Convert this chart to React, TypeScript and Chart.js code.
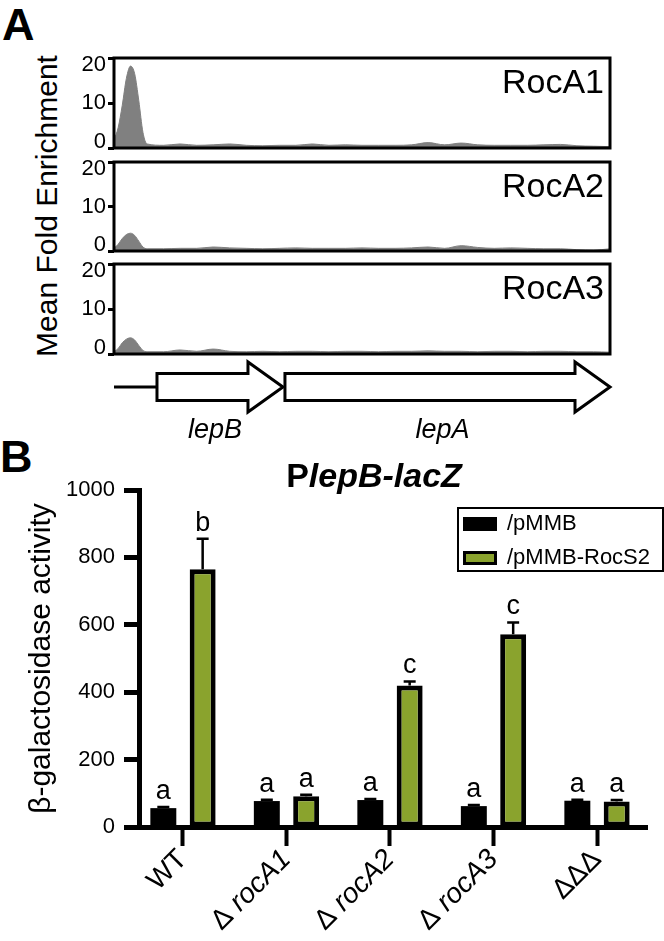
import React, { useEffect, useRef } from 'react';
import { Chart, registerables } from 'chart.js';

Chart.register(...registerables);

const FONT = 'Arial, "Liberation Sans", Helvetica, sans-serif';
Chart.defaults.font.family = FONT;
Chart.defaults.color = '#000';

// ---------- Panel A data (genomic position in bp, mean fold enrichment) ----------
const positions = [0, 25, 50, 75, 100, 125, 150, 175, 200, 300, 400, 500, 600, 700, 800, 900, 1000, 1100, 1200, 1300, 1400, 1500, 1600, 1700, 1800, 1900, 2000, 2100, 2200, 2300, 2400, 2500, 2600, 2700, 2800, 2900, 3000];
const rocA1Values = [1.8, 4.5, 9.5, 15.5, 18.2, 16.5, 10.5, 3.5, 0.9, 0.6, 0.9, 0.6, 0.7, 0.9, 0.6, 0.5, 0.6, 0.6, 0.9, 0.6, 0.7, 0.6, 0.6, 0.6, 0.7, 1.2, 0.7, 1.1, 0.7, 0.6, 0.6, 0.6, 0.7, 0.8, 0.5, 0.4, 0.3];
const rocA2Values = [0.6, 1.5, 2.8, 3.7, 4.0, 3.5, 2.2, 0.9, 0.5, 0.5, 0.6, 0.6, 0.9, 0.7, 0.6, 0.5, 0.6, 0.7, 0.6, 0.6, 0.6, 0.7, 0.6, 0.6, 0.7, 0.9, 0.6, 1.2, 0.8, 0.6, 0.7, 0.6, 0.5, 0.5, 0.3, 0.2, 0.5];
const rocA3Values = [0.5, 1.2, 2.5, 3.3, 3.6, 3.1, 1.9, 0.8, 0.5, 0.5, 0.9, 0.6, 1.1, 0.6, 0.5, 0.6, 0.5, 0.6, 0.6, 0.5, 0.6, 0.6, 0.5, 0.6, 0.6, 0.7, 0.6, 0.6, 0.5, 0.6, 0.6, 0.5, 0.6, 0.6, 0.5, 0.5, 0.4];
const trackNames = ['RocA1', 'RocA2', 'RocA3'];
const trackValues = [rocA1Values, rocA2Values, rocA3Values];
const trackTicks = [0, 10, 20];

const geneNames = ['lepB', 'lepA'];
const geneStart = [260, 1034];
const geneEnd = [1022, 3000];

// ---------- Panel B data ----------
const categories = ['WT', 'ΔrocA1', 'ΔrocA2', 'ΔrocA3', 'ΔΔΔ'];
const seriesNames = ['/pMMB', '/pMMB-RocS2'];
const pmmbValues = [56, 77, 80, 62, 78];
const pmmbErrors = [3, 4, 3, 3, 3];
const pmmbLetters = ['a', 'a', 'a', 'a', 'a'];
const rocS2Values = [765, 91, 420, 572, 76];
const rocS2Errors = [90, 5, 12, 35, 4];
const rocS2Letters = ['b', 'a', 'c', 'c', 'a'];
const yTicksB = [0, 200, 400, 600, 800, 1000];

const GREEN = '#8aa32d';
const GRAY = '#808080';

function trackPlugin(k: number) {
  return {
    id: 'track' + k,
    afterDraw(chart: any) {
      const { ctx, chartArea: a } = chart;
      const ys = chart.scales.y;
      const xs = chart.scales.x;
      ctx.save();
      ctx.strokeStyle = '#000';
      ctx.lineWidth = 3;
      ctx.strokeRect(a.left, a.top, a.right - a.left, a.bottom - a.top);
      ctx.fillStyle = '#000';
      ctx.font = `22px ${FONT}`;
      ctx.textAlign = 'right';
      ctx.textBaseline = 'middle';
      trackTicks.forEach((v) => {
        let py = ys.getPixelForValue(v);
        py = Math.min(Math.max(py, a.top + 7), a.bottom - 6.5);
        ctx.fillText(String(v), a.left - 8, py);
      });
      ctx.font = `34px ${FONT}`;
      ctx.textBaseline = 'alphabetic';
      ctx.fillText(trackNames[k], a.right - 6, a.top + 35);
      if (k === trackNames.length - 1) {
        const yc = a.bottom + 33;
        ctx.lineWidth = 3;
        ctx.lineJoin = 'miter';
        ctx.beginPath();
        ctx.moveTo(xs.getPixelForValue(positions[0]), yc);
        ctx.lineTo(xs.getPixelForValue(geneStart[0]), yc);
        ctx.stroke();
        geneNames.forEach((g, i) => {
          const x0 = xs.getPixelForValue(geneStart[i]);
          const x1 = xs.getPixelForValue(geneEnd[i]);
          const hx = x1 - 35;
          ctx.beginPath();
          ctx.moveTo(x0, yc - 13.5);
          ctx.lineTo(hx, yc - 13.5);
          ctx.lineTo(hx, yc - 25);
          ctx.lineTo(x1, yc);
          ctx.lineTo(hx, yc + 25);
          ctx.lineTo(hx, yc + 13.5);
          ctx.lineTo(x0, yc + 13.5);
          ctx.closePath();
          ctx.fillStyle = '#fff';
          ctx.fill();
          ctx.stroke();
          ctx.fillStyle = '#000';
          ctx.font = `italic 27px ${FONT}`;
          ctx.textAlign = 'center';
          ctx.fillText(g, (x0 + x1) / 2 - 5, a.bottom + 84);
        });
      }
      ctx.restore();
    },
  };
}

function trackConfig(k: number): any {
  const vals = trackValues[k];
  return {
    type: 'line',
    data: {
      datasets: [
        {
          label: trackNames[k],
          data: positions.map((x, i) => ({ x, y: vals[i] })),
          fill: 'origin',
          backgroundColor: GRAY,
          borderColor: GRAY,
          borderWidth: 1,
          pointRadius: 0,
          cubicInterpolationMode: 'monotone',
        },
      ],
    },
    options: {
      animation: false,
      responsive: false,
      events: [],
      layout: { padding: { top: 12, bottom: k === 2 ? 98 : 12, left: 0, right: 54 } },
      plugins: { legend: { display: false }, tooltip: { enabled: false } },
      scales: {
        x: { type: 'linear', min: positions[0], max: positions[positions.length - 1], display: false },
        y: {
          min: 0,
          max: 20,
          ticks: { stepSize: 10, display: false },
          grid: { drawOnChartArea: false, tickLength: 6, tickWidth: 3, tickColor: '#000' },
          border: { display: false },
          afterFit: (s: any) => {
            s.width = 114;
          },
        },
      },
    },
    plugins: [trackPlugin(k)],
  };
}

const barPlugin = {
  id: 'barExtras',
  afterDatasetsDraw(chart: any) {
    const { ctx } = chart;
    const ys = chart.scales.y;
    ctx.save();
    chart.data.datasets.forEach((ds: any, d: number) => {
      const meta = chart.getDatasetMeta(d);
      meta.data.forEach((bar: any, i: number) => {
        const v = ds.data[i].y;
        const e = ds.errors[i];
        const yTop = ys.getPixelForValue(v);
        const yErr = ys.getPixelForValue(v + e);
        ctx.strokeStyle = '#000';
        ctx.lineWidth = 2.5;
        ctx.beginPath();
        ctx.moveTo(bar.x, yTop);
        ctx.lineTo(bar.x, yErr);
        ctx.moveTo(bar.x - 6, yErr);
        ctx.lineTo(bar.x + 6, yErr);
        ctx.stroke();
        ctx.fillStyle = '#000';
        ctx.font = `27px ${FONT}`;
        ctx.textAlign = 'center';
        ctx.textBaseline = 'alphabetic';
        ctx.fillText(ds.letters[i], bar.x, yErr - 8);
      });
    });
    ctx.restore();
  },
  afterDraw(chart: any) {
    const { ctx, chartArea: a } = chart;
    const xs = chart.scales.x;
    ctx.save();
    // title
    const t1 = 'P';
    const t2 = 'lepB-lacZ';
    ctx.font = `bold 34px ${FONT}`;
    const w1 = ctx.measureText(t1).width;
    ctx.font = `italic bold 34px ${FONT}`;
    const w2 = ctx.measureText(t2).width;
    const sx = 374 - (w1 + w2) / 2;
    ctx.fillStyle = '#000';
    ctx.textAlign = 'left';
    ctx.textBaseline = 'alphabetic';
    ctx.font = `bold 34px ${FONT}`;
    ctx.fillText(t1, sx, a.top - 3);
    ctx.font = `italic bold 34px ${FONT}`;
    ctx.fillText(t2, sx + w1, a.top - 3);
    // legend
    const lx = 458;
    const ly = a.top + 18;
    ctx.lineWidth = 2;
    ctx.strokeStyle = '#000';
    ctx.strokeRect(lx, ly, 205, 63);
    chart.data.datasets.forEach((ds: any, i: number) => {
      const cy = ly + 16 + i * 34;
      ctx.fillStyle = '#000';
      ctx.fillRect(lx + 5, cy - 7, 34, 14);
      ctx.fillStyle = ds.backgroundColor;
      ctx.fillRect(lx + 8, cy - 4, 28, 8);
      ctx.fillStyle = '#000';
      ctx.font = `22px ${FONT}`;
      ctx.textBaseline = 'middle';
      ctx.textAlign = 'left';
      ctx.fillText(ds.label, lx + 49, cy);
    });
    // x labels
    categories.forEach((c, i) => {
      const px = xs.getPixelForValue(i);
      const m = c.match(/^(Δ*)(.*)$/) as RegExpMatchArray;
      const segs: [string, string][] = [];
      if (m[1] && m[2]) {
        segs.push([m[1] + ' ', `28px ${FONT}`]);
        segs.push([m[2], `italic 28px ${FONT}`]);
      } else {
        segs.push([c, `28px ${FONT}`]);
      }
      let total = 0;
      segs.forEach(([s, f]) => {
        ctx.font = f;
        total += ctx.measureText(s).width;
      });
      ctx.save();
      ctx.translate(px, a.bottom + 28);
      ctx.rotate(-Math.PI / 4);
      ctx.textAlign = 'left';
      ctx.textBaseline = 'middle';
      ctx.fillStyle = '#000';
      let cur = -total;
      segs.forEach(([s, f]) => {
        ctx.font = f;
        ctx.fillText(s, cur, 0);
        cur += ctx.measureText(s).width;
      });
      ctx.restore();
    });
    ctx.restore();
  },
};

function barConfig(): any {
  const mk = (vals: number[]) => categories.map((_, i) => ({ x: i, y: vals[i] }));
  return {
    type: 'bar',
    data: {
      datasets: [
        {
          label: seriesNames[0],
          data: mk(pmmbValues),
          errors: pmmbErrors,
          letters: pmmbLetters,
          backgroundColor: '#000',
          borderColor: '#000',
          borderWidth: 0,
          categoryPercentage: 0.76,
          barPercentage: 0.66,
        },
        {
          label: seriesNames[1],
          data: mk(rocS2Values),
          errors: rocS2Errors,
          letters: rocS2Letters,
          backgroundColor: GREEN,
          borderColor: '#000',
          borderWidth: 5,
          borderSkipped: false,
          categoryPercentage: 0.76,
          barPercentage: 0.66,
        },
      ],
    },
    options: {
      animation: false,
      responsive: false,
      events: [],
      layout: { padding: { top: 50, right: 17, left: 0, bottom: 0 } },
      plugins: { legend: { display: false }, tooltip: { enabled: false } },
      scales: {
        x: {
          type: 'linear',
          min: -0.425,
          max: 4.483,
          offset: false,
          grid: { offset: false, drawOnChartArea: false, tickLength: 19, tickWidth: 4, tickColor: '#000' },
          border: { width: 5, color: '#000' },
          ticks: { display: false },
          afterBuildTicks: (s: any) => {
            s.ticks = categories.map((_, i) => ({ value: i }));
          },
          afterFit: (s: any) => {
            s.height = 114;
          },
        },
        y: {
          min: 0,
          max: 1000,
          afterBuildTicks: (s: any) => {
            s.ticks = yTicksB.map((v) => ({ value: v }));
          },
          ticks: { font: { size: 22 }, color: '#000', padding: 9, callback: (v: any) => String(v) },
          grid: { drawOnChartArea: false, tickLength: 15, tickWidth: 5, tickColor: '#000' },
          border: { width: 5, color: '#000' },
          title: {
            display: true,
            text: 'β-galactosidase activity',
            font: { size: 30 },
            color: '#000',
            padding: { top: 24, bottom: 0 },
          },
          afterFit: (s: any) => {
            s.width = 139;
          },
        },
      },
    },
    plugins: [barPlugin],
  };
}

function ChartCanvas({ make, top, height }: { make: () => any; top: number; height: number }) {
  const ref = useRef<HTMLCanvasElement>(null);
  useEffect(() => {
    const chart = new Chart(ref.current as HTMLCanvasElement, make());
    return () => chart.destroy();
  }, []);
  return (
    <canvas
      ref={ref}
      width={664}
      height={height}
      style={{ position: 'absolute', left: 0, top, width: 664, height }}
    />
  );
}

const trackTops = [46, 150, 252];
const trackHeights = [114, 113, 200];

export default function App() {
  return (
    <div style={{ position: 'absolute', left: 0, top: 0, width: 664, height: 941, background: '#fff', fontFamily: FONT, overflow: 'hidden' }}>
      <div style={{ position: 'absolute', left: 2, top: 2, fontSize: 45, fontWeight: 'bold', lineHeight: 1 }}>A</div>
      <div style={{ position: 'absolute', left: 0, top: 434, fontSize: 45, fontWeight: 'bold', lineHeight: 1 }}>B</div>
      <div
        style={{
          position: 'absolute',
          left: 47,
          top: 206,
          fontSize: 30,
          lineHeight: 1,
          whiteSpace: 'nowrap',
          transform: 'translate(-50%, -50%) rotate(-90deg)',
        }}
      >
        Mean Fold Enrichment
      </div>
      {trackNames.map((_, k) => (
        <ChartCanvas key={k} make={() => trackConfig(k)} top={trackTops[k]} height={trackHeights[k]} />
      ))}
      <ChartCanvas make={barConfig} top={440} height={501} />
    </div>
  );
}
